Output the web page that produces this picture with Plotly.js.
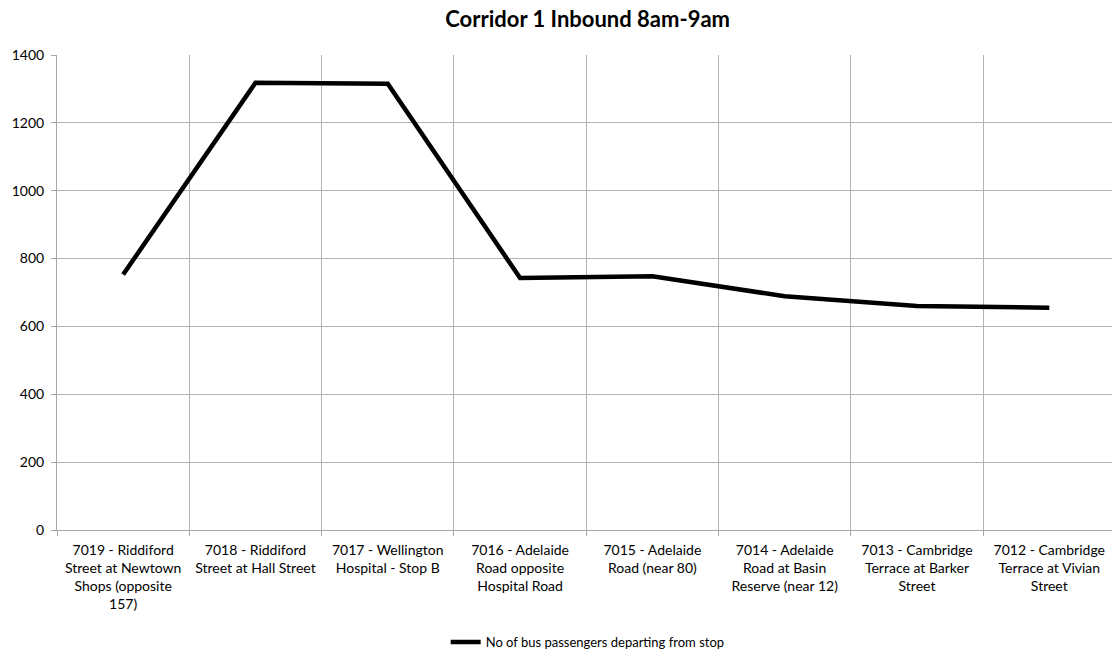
<!DOCTYPE html>
<html>
<head>
<meta charset="utf-8">
<script src="https://cdn.plot.ly/plotly-3.0.1.min.js"></script>
<style>
  body { margin: 0; background: #fff; }
  #chart { width: 1112px; height: 657px; }
</style>
</head>
<body>
<div id="chart"></div>
<script>
// stops along the corridor, in order
var stops = [
  "7019 - Riddiford<br>Street at Newtown<br>Shops (opposite<br>157)",
  "7018 - Riddiford<br>Street at Hall Street",
  "7017 - Wellington<br>Hospital - Stop B",
  "7016 - Adelaide<br>Road opposite<br>Hospital Road",
  "7015 - Adelaide<br>Road (near 80)",
  "7014 - Adelaide<br>Road at Basin<br>Reserve (near 12)",
  "7013 - Cambridge<br>Terrace at Barker<br>Street",
  "7012 - Cambridge<br>Terrace at Vivian<br>Street"
];
var passengers = [753, 1318, 1315, 743, 748, 689, 660, 655];
var seriesName = "No of bus passengers departing from stop";
var yTicks = [0, 200, 400, 600, 800, 1000, 1200, 1400];

var trace = {
  x: stops,
  y: passengers,
  name: seriesName,
  type: "scatter",
  mode: "lines",
  line: {color: "#000000", width: 4.5},
  showlegend: true
};

var layout = {
  width: 1112,
  height: 657,
  margin: {l: 57, r: 0, t: 55, b: 125},
  paper_bgcolor: "#ffffff",
  plot_bgcolor: "#ffffff",
  font: {family: "Lato, 'Liberation Sans', sans-serif", size: 14, color: "#000000"},
  title: {
    text: "<b>Corridor 1 Inbound 8am-9am</b>",
    font: {size: 22, color: "#000000"},
    x: 0.503, xref: "paper", xanchor: "center",
    y: 0.97, yref: "container", yanchor: "middle"
  },
  xaxis: {
    type: "category",
    range: [-0.5, 7.474],
    tickson: "boundaries",
    ticks: "outside",
    ticklen: 5,
    tickcolor: "#a6a6a6",
    ticklabelstandoff: 7,
    showgrid: true,
    gridcolor: "#b3b3b3",
    gridwidth: 1,
    showline: true,
    linecolor: "#a6a6a6",
    zeroline: false,
    tickangle: 0,
    tickfont: {size: 14}
  },
  yaxis: {
    range: [0, 1400],
    tickvals: yTicks,
    ticks: "outside",
    ticklen: 5,
    tickcolor: "#a6a6a6",
    ticklabelstandoff: 4,
    showgrid: true,
    gridcolor: "#b3b3b3",
    gridwidth: 1,
    showline: true,
    linecolor: "#a6a6a6",
    zeroline: false,
    tickfont: {size: 14}
  },
  legend: {
    orientation: "h",
    x: 0.503, xanchor: "center",
    y: -0.237, yanchor: "middle",
    font: {size: 13}
  }
};

Plotly.newPlot("chart", [trace], layout, {displayModeBar: false});
</script>
</body>
</html>
